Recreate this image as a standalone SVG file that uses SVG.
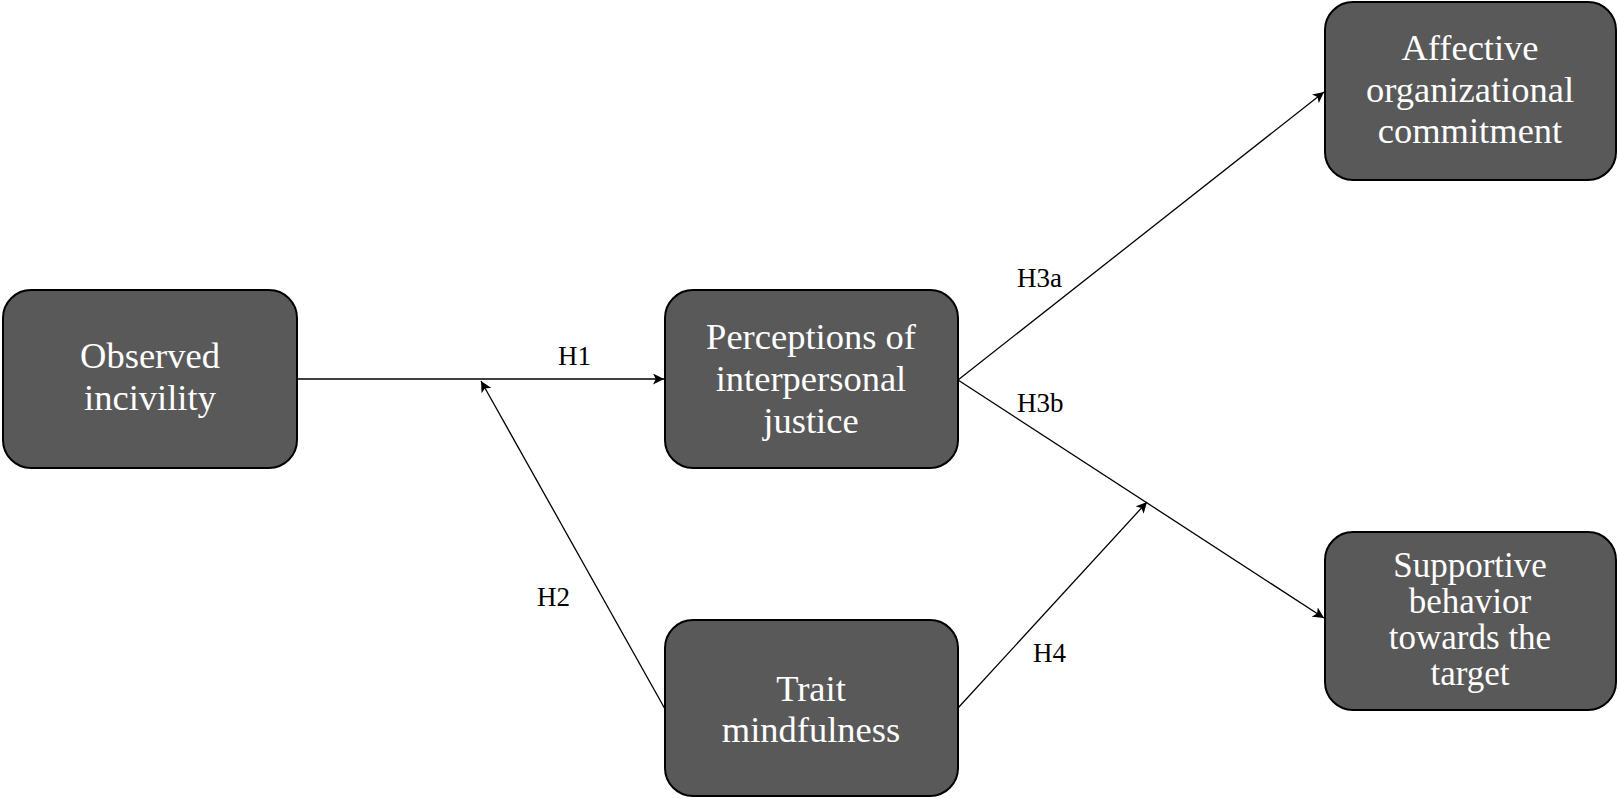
<svg xmlns="http://www.w3.org/2000/svg" width="1618" height="798" viewBox="0 0 1618 798">
<style>
.box{fill:#595959;stroke:#000;stroke-width:2}
.t{fill:#fff;font-size:36.5px;text-anchor:middle}
.t4{font-size:35px}
.lbl{fill:#000;font-size:27px}
.c{stroke:#000;stroke-width:1.3;fill:none;marker-end:url(#ah)}
</style>
<defs>
<marker id="ah" viewBox="0 0 10 10" refX="10" refY="5" markerWidth="11" markerHeight="11" markerUnits="userSpaceOnUse" orient="auto">
<path d="M0,0 L10,5 L0,10 L2.5,5 z" fill="#000"/>
</marker>
</defs>
<rect width="1618" height="798" fill="#fff"/>
<g id="connectors">
<line class="c" x1="297" y1="379" x2="664" y2="379"/>
<line class="c" x1="665" y1="709" x2="481" y2="381"/>
<line class="c" x1="958" y1="380" x2="1324" y2="92"/>
<line class="c" x1="958" y1="380" x2="1324" y2="618"/>
<line class="c" x1="958" y1="708" x2="1147" y2="502"/>
<g font-family="Liberation Serif, Times New Roman, serif">
<text class="lbl" x="558" y="365">H1</text>
<text class="lbl" x="537" y="606">H2</text>
<text class="lbl" x="1017" y="287">H3a</text>
<text class="lbl" x="1017" y="412">H3b</text>
<text class="lbl" x="1033" y="662">H4</text>
</g>
</g>
<g id="observed" font-family="Liberation Serif, Times New Roman, serif">
<rect class="box" x="3" y="290" width="294" height="178" rx="28"/>
<text class="t" x="150" y="368">Observed</text>
<text class="t" x="150" y="410">incivility</text>
</g>
<g id="perceptions" font-family="Liberation Serif, Times New Roman, serif">
<rect class="box" x="665" y="290" width="293" height="178" rx="28"/>
<text class="t" x="811" y="349">Perceptions of</text>
<text class="t" x="811" y="391">interpersonal</text>
<text class="t" x="811" y="433">justice</text>
</g>
<g id="affective" font-family="Liberation Serif, Times New Roman, serif">
<rect class="box" x="1325" y="2" width="291" height="178" rx="28"/>
<text class="t" x="1470" y="60">Affective</text>
<text class="t" x="1470" y="102">organizational</text>
<text class="t" x="1470" y="143">commitment</text>
</g>
<g id="supportive" font-family="Liberation Serif, Times New Roman, serif">
<rect class="box" x="1325" y="532" width="291" height="178" rx="28"/>
<text class="t t4" x="1470" y="577">Supportive</text>
<text class="t t4" x="1470" y="613">behavior</text>
<text class="t t4" x="1470" y="649">towards the</text>
<text class="t t4" x="1470" y="685">target</text>
</g>
<g id="trait" font-family="Liberation Serif, Times New Roman, serif">
<rect class="box" x="665" y="620" width="293" height="176" rx="28"/>
<text class="t" x="811" y="701">Trait</text>
<text class="t" x="811" y="742">mindfulness</text>
</g>
</svg>
